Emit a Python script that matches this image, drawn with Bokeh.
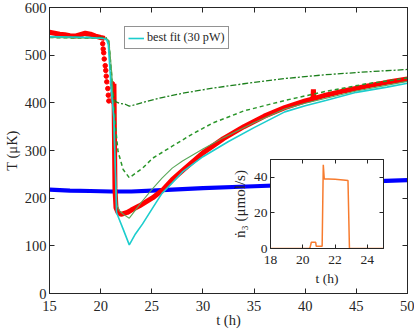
from bokeh.plotting import figure
from bokeh.models import LinearAxis, FixedTicker, Range1d, Legend, LegendItem
from bokeh.embed import file_html
from bokeh.resources import INLINE

FONT = "Liberation Serif"
AX = "#262626"

# ---------------- data ----------------
x_ticks = [15, 20, 25, 30, 35, 40, 45, 50]
y_ticks = [0, 100, 200, 300, 400, 500, 600]
ix_ticks = [18, 20, 22, 24]
iy_ticks = [0, 20, 40]

# measured temperature (red band) - NaN break where the scattered drop is
t_red = [15, 15.5, 16, 16.5, 17, 17.5, 18, 18.5, 19, 19.5, 20, 20.4, float("nan"),
         21.3, 21.35, 21.4, 21.5, 21.7, 22.0, 22.3, 22.6, 23.0, 23.8, 25.1, 26.1, 27.0,
         28.0, 30.0, 32.0, 34.0, 36.0, 38.0, 40.0, 40.75, 40.8, 40.85, 42.0, 44.0, 46.0,
         48.0, 50.0]
T_red = [548, 546, 544, 543, 541, 540, 543, 546, 544, 540, 537, 535, float("nan"),
         440, 330, 220, 180, 170, 166, 168, 170, 175, 184, 201, 218, 239,
         258, 295, 325, 350, 372, 390, 404, 408, 428, 409, 416, 426, 435,
         443, 450]
# scattered measured points during the drop
t_red_pts = [20.2, 20.25, 20.3, 20.35, 20.45, 20.5, 20.55, 20.6, 20.7, 20.75, 20.8,
             21.15, 21.2, 21.2, 21.22, 21.25]
T_red_pts = [524, 513, 505, 492, 478, 468, 456, 444, 430, 416, 404,
             440, 432, 420, 410, 402]

# bath temperature (blue)
t_blue = [15, 17, 19, 21, 23, 25, 27, 30, 35, 40, 45, 50]
T_blue = [218, 216, 215, 214, 214, 216, 218, 221, 225, 229, 234, 238]

# best fit (cyan)
t_fit = [15, 17, 19, 20.3, 20.6, 20.75, 21.05, 21.3, 21.45, 21.55, 22.2, 22.8, 23.4,
         24.1, 25.4, 26.0, 27, 28, 30, 32.5, 35, 38, 40, 42, 45, 48, 50]
T_fit = [539, 538, 537, 535, 532, 522, 423, 368, 250, 170, 135, 102, 125,
         146, 190, 210, 232, 255, 287, 319, 348, 381, 394, 405, 422, 433, 441]

# thin green model
t_g1 = [15, 20.5, 20.8, 21.1, 21.35, 21.6, 21.85, 22.3, 22.8, 23.4, 24, 25, 26, 27,
        28, 30, 32, 35, 38, 40, 45, 50]
T_g1 = [537, 535, 530, 460, 300, 185, 173, 165, 158, 175, 192, 218, 242, 263,
        278, 303, 327, 358, 387, 399, 425, 445]

# dashed green model
t_g2 = [15, 20.5, 20.8, 21.1, 21.5, 21.7, 22.2, 22.8, 23.4, 24.1, 25.1, 27, 29, 31,
        34, 38, 42, 46, 50]
T_g2 = [537, 535, 530, 450, 340, 298, 260, 243, 252, 263, 284, 309, 335, 358,
        383, 405, 424, 440, 452]

# dash-dot green model
t_g3 = [15, 20.5, 20.8, 21.05, 21.3, 21.5, 21.85, 22.4, 22.8, 23.2, 24, 26, 28, 31,
        34, 38, 42, 46, 50]
T_g3 = [539, 537, 530, 434, 410, 402, 399, 397, 393, 395, 400, 411, 420, 431,
        440, 451, 459, 465, 470]

# inset: molar flow
t_n = [18, 20.38, 20.45, 20.53, 20.8, 20.83, 21.2, 21.27, 21.33, 21.6, 22.0, 22.5,
       22.8, 22.89, 25]
n_3 = [0, 0, 0.5, 3.5, 3.5, 1.3, 1.3, 47, 39, 39, 38.9, 38.5, 38.2, 0, 0]


def style_axis(ax, ticks, size, labels=True, tick_in=5):
    ax.ticker = FixedTicker(ticks=ticks)
    ax.axis_line_color = AX
    ax.major_tick_line_color = AX
    ax.major_tick_in = tick_in
    ax.major_tick_out = 0
    ax.minor_tick_line_color = None
    ax.major_label_text_font = FONT
    ax.axis_label_text_font = FONT
    ax.axis_label_text_color = AX
    ax.axis_label_text_font_style = "normal"
    ax.axis_label_text_font_size = size
    if labels:
        ax.major_label_text_color = AX
        ax.major_label_text_font_size = size
        ax.major_label_standoff = 3
        ax.axis_label_standoff = 2
    else:
        ax.major_label_text_color = None
        ax.major_label_text_font_size = "0px"
        ax.major_label_standoff = 0
        ax.axis_label_standoff = 0


# ---------------- main figure ----------------
p = figure(width=414, height=332, x_range=Range1d(15, 50), y_range=Range1d(0, 600),
           output_backend="svg", toolbar_location=None,
           min_border_left=46, min_border_right=7, min_border_top=7, min_border_bottom=39)
p.styles = {"position": "absolute", "left": "0px", "top": "0px"}
p.xgrid.visible = False
p.ygrid.visible = False
p.outline_line_color = AX
p.background_fill_color = "white"
p.border_fill_color = "white"

style_axis(p.xaxis[0], x_ticks, "14.5px")
style_axis(p.yaxis[0], y_ticks, "14.5px")
p.xaxis[0].axis_label = "t (h)"
p.xaxis[0].major_label_standoff = 7
p.xaxis[0].axis_label_standoff = -2
p.yaxis[0].axis_label = "T (μK)"

top_ax = LinearAxis()
style_axis(top_ax, x_ticks, "14.5px", labels=False)
p.add_layout(top_ax, "above")
right_ax = LinearAxis()
style_axis(right_ax, y_ticks, "14.5px", labels=False)
p.add_layout(right_ax, "right")

p.line(t_blue, T_blue, line_color="#0000ff", line_width=4.2)
p.line(t_red, T_red, line_color="#ff0000", line_width=5)
p.scatter(t_red_pts, T_red_pts, size=4.5, fill_color="#ff0000", line_color="#ff0000")
p.line(t_g3, T_g3, line_color="#1b7f1b", line_width=1.3, line_dash="6 2 2 2")
p.line(t_g2, T_g2, line_color="#2a962a", line_width=1.5, line_dash="4 3")
p.line(t_g1, T_g1, line_color="#5aa85a", line_width=1.1)
fit_r = p.line(t_fit, T_fit, line_color="#1ccdcd", line_width=1.6)

legend = Legend(items=[LegendItem(label="best fit (30 pW)", renderers=[fit_r])],
                location=(75, 244))
legend.border_line_color = AX
legend.border_line_width = 1
legend.padding = 3
legend.margin = 0
legend.spacing = 0
legend.glyph_width = 16
legend.glyph_height = 14
legend.label_standoff = 3
legend.label_text_font = FONT
legend.label_text_font_size = "12.2px"
legend.label_text_color = AX
legend.label_height = 14
legend.background_fill_color = "white"
legend.background_fill_alpha = 1
p.add_layout(legend, "center")

# ---------------- inset ----------------
ins = figure(width=163, height=139, x_range=Range1d(18, 25), y_range=Range1d(0, 50),
             output_backend="svg", toolbar_location=None,
             min_border_left=45, min_border_right=5, min_border_top=5, min_border_bottom=45)
ins.styles = {"position": "absolute", "left": "225px", "top": "154px"}
ins.xgrid.visible = False
ins.ygrid.visible = False
ins.outline_line_color = AX
ins.background_fill_color = "white"
ins.border_fill_alpha = 0
ins.background_fill_alpha = 1

style_axis(ins.xaxis[0], ix_ticks, "13.5px", tick_in=4)
style_axis(ins.yaxis[0], iy_ticks, "13.5px", tick_in=4)
ins.xaxis[0].axis_label = "t (h)"
ins.xaxis[0].major_label_standoff = 7
ins.xaxis[0].axis_label_standoff = 4
ins.yaxis[0].axis_label = "ṅ₃ (μmol/s)"
ins.yaxis[0].axis_label_text_font_size = "15px"
ins.yaxis[0].axis_label_standoff = 3
ins_top = LinearAxis()
style_axis(ins_top, ix_ticks, "13.5px", labels=False, tick_in=4)
ins.add_layout(ins_top, "above")
ins_right = LinearAxis()
style_axis(ins_right, iy_ticks, "13.5px", labels=False, tick_in=4)
ins.add_layout(ins_right, "right")

ins.line(t_n, n_3, line_color="#f77b2e", line_width=1.5)

open("out.html", "w").write(file_html([p, ins], INLINE))
